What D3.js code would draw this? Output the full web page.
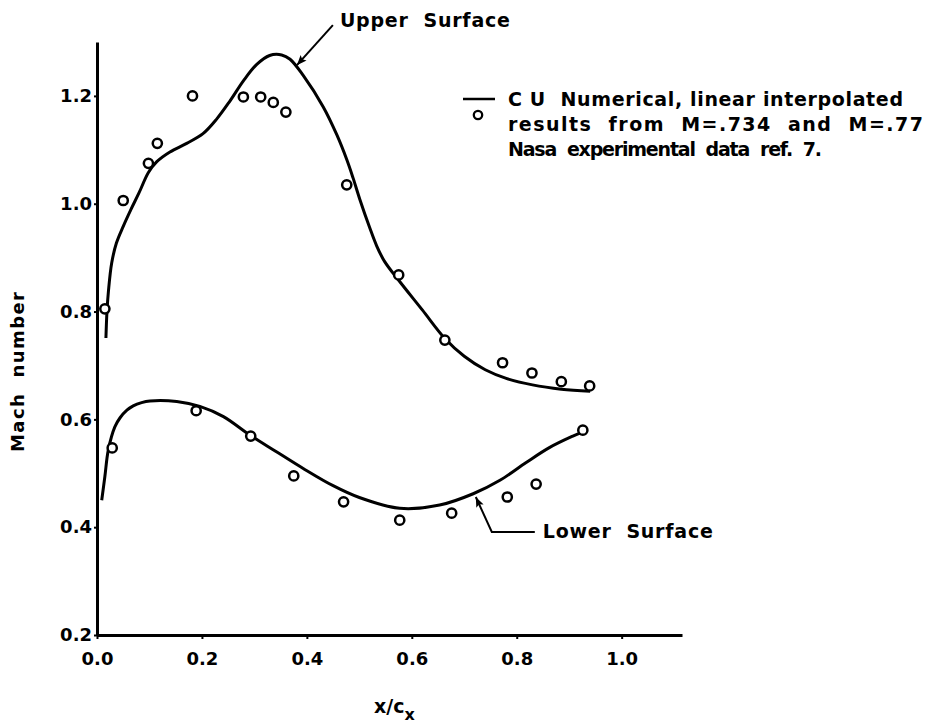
<!DOCTYPE html>
<html>
<head>
<meta charset="utf-8">
<script src="https://cdn.jsdelivr.net/npm/d3@7"></script>
<style>
    body { margin: 0; background: #fff; }
    svg text { font-family: "DejaVu Sans", sans-serif; font-weight: bold; fill: #000; }
</style>
</head>
<body>
<svg id="chart" width="938" height="724"></svg>
<script>
// ticks
const xTicks = [0, 0.2, 0.4, 0.6, 0.8, 1.0];
const xTickLabels = ["0.0", "0.2", "0.4", "0.6", "0.8", "1.0"];
const yTicks = [0.2, 0.4, 0.6, 0.8, 1.0, 1.2];
const yTickLabels = ["0.2", "0.4", "0.6", "0.8", "1.0", "1.2"];

// CU numerical, upper surface (x/c, Mach)
const upperCurveX = [0.017, 0.019, 0.022, 0.028, 0.037, 0.050, 0.065, 0.080, 0.098, 0.114, 0.139, 0.171, 0.202, 0.228, 0.253, 0.279, 0.304, 0.329, 0.352, 0.368, 0.393, 0.431, 0.457, 0.476, 0.488, 0.501, 0.520, 0.533, 0.548, 0.575, 0.620, 0.663, 0.700, 0.740, 0.780, 0.830, 0.885, 0.940];
const upperCurveM = [0.751, 0.800, 0.840, 0.890, 0.927, 0.958, 0.990, 1.020, 1.058, 1.078, 1.096, 1.112, 1.130, 1.157, 1.190, 1.228, 1.258, 1.275, 1.276, 1.268, 1.238, 1.180, 1.128, 1.082, 1.048, 1.008, 0.955, 0.922, 0.893, 0.858, 0.803, 0.750, 0.717, 0.692, 0.676, 0.664, 0.656, 0.652];

// CU numerical, lower surface
const lowerCurveX = [0.009, 0.015, 0.0215, 0.034, 0.044, 0.057, 0.069, 0.085, 0.101, 0.152, 0.196, 0.241, 0.291, 0.342, 0.393, 0.450, 0.500, 0.577, 0.653, 0.717, 0.768, 0.818, 0.863, 0.907, 0.926];
const lowerCurveM = [0.450, 0.494, 0.543, 0.586, 0.603, 0.617, 0.625, 0.631, 0.634, 0.633, 0.624, 0.605, 0.571, 0.540, 0.509, 0.477, 0.455, 0.435, 0.441, 0.462, 0.487, 0.520, 0.548, 0.569, 0.577];

// Nasa experimental data
const upperExpX = [0.015, 0.050, 0.098, 0.115, 0.182, 0.279, 0.312, 0.336, 0.360, 0.476, 0.575, 0.663, 0.773, 0.829, 0.885, 0.939];
const upperExpM = [0.805, 1.006, 1.075, 1.112, 1.200, 1.198, 1.198, 1.188, 1.170, 1.035, 0.868, 0.747, 0.705, 0.686, 0.670, 0.662];
const lowerExpX = [0.029, 0.189, 0.293, 0.375, 0.470, 0.577, 0.676, 0.782, 0.837, 0.926];
const lowerExpM = [0.547, 0.616, 0.569, 0.495, 0.447, 0.413, 0.426, 0.456, 0.480, 0.580];

const legendLines = [
    "C U  Numerical, linear interpolated",
    "results  from  M=.734  and  M=.77",
    "Nasa  experimental  data  ref.  7."
];
const legendWidths = [395, 415, 314];

const svg = d3.select("#chart");

const x = d3.scaleLinear().domain([0, 1.115]).range([97, 682]);
const y = d3.scaleLinear().domain([0.2, 1.3]).range([635, 42]);

// axes
let xAxis = d3.axisBottom(x)
    .tickValues(xTicks)
    .tickSize(4)
    .tickSizeOuter(0)
    .tickPadding(13)
    .tickFormat((d, i) => xTickLabels[i]);

let yAxis = d3.axisLeft(y)
    .tickValues(yTicks)
    .tickSize(3)
    .tickSizeOuter(0)
    .tickPadding(2)
    .tickFormat((d, i) => yTickLabels[i]);

let gx = svg.append("g")
    .attr("transform", "translate(0,635)")
    .call(xAxis);
let gy = svg.append("g")
    .attr("transform", "translate(97,0)")
    .call(yAxis);

[gx, gy].forEach(g => {
    g.select(".domain").attr("stroke", "#000").attr("stroke-width", 3);
    g.selectAll(".tick line").attr("stroke", "#000").attr("stroke-width", 2);
    g.selectAll(".tick text")
        .attr("font-size", 18)
        .style("font-family", '"DejaVu Sans", sans-serif')
        .style("font-weight", "bold");
});

// axis titles
svg.append("text")
    .attr("transform", "translate(24,372) rotate(-90)")
    .attr("text-anchor", "middle")
    .attr("font-size", 18)
    .attr("textLength", 160)
    .attr("lengthAdjust", "spacing")
    .style("white-space", "pre")
    .text("Mach  number");

let xt = svg.append("text")
    .attr("x", 374)
    .attr("y", 713)
    .attr("font-size", 19);
xt.append("tspan").text("x/c");
xt.append("tspan").attr("dy", 7).attr("font-size", 16).text("x");

// curves
const line = d3.line()
    .x(d => x(d[0]))
    .y(d => y(d[1]))
    .curve(d3.curveCatmullRom.alpha(0.5));

svg.append("path")
    .datum(d3.zip(upperCurveX, upperCurveM))
    .attr("d", line)
    .attr("fill", "none")
    .attr("stroke", "#000")
    .attr("stroke-width", 3);

svg.append("path")
    .datum(d3.zip(lowerCurveX, lowerCurveM))
    .attr("d", line)
    .attr("fill", "none")
    .attr("stroke", "#000")
    .attr("stroke-width", 3);

// experimental points
const expData = d3.zip(upperExpX, upperExpM).concat(d3.zip(lowerExpX, lowerExpM));
svg.append("g")
    .selectAll("circle")
    .data(expData)
    .enter()
    .append("circle")
    .attr("cx", d => x(d[0]))
    .attr("cy", d => y(d[1]))
    .attr("r", 4.6)
    .attr("fill", "#fff")
    .attr("stroke", "#000")
    .attr("stroke-width", 2.5);

// arrow marker
svg.append("defs")
    .append("marker")
    .attr("id", "arrow")
    .attr("viewBox", "0 0 10 10")
    .attr("refX", 10)
    .attr("refY", 5)
    .attr("markerUnits", "userSpaceOnUse")
    .attr("markerWidth", 13)
    .attr("markerHeight", 10)
    .attr("orient", "auto")
    .append("path")
    .attr("d", "M0,1L10,5L0,9L2,5z")
    .attr("fill", "#000");

// Upper Surface annotation
let upTip = [x(0.381), y(1.257)];
svg.append("path")
    .attr("d", `M${upTip[0] + 36},${upTip[1] - 40}L${upTip[0]},${upTip[1]}`)
    .attr("stroke", "#000")
    .attr("stroke-width", 2)
    .attr("fill", "none")
    .attr("marker-end", "url(#arrow)");
svg.append("text")
    .attr("x", upTip[0] + 43)
    .attr("y", upTip[1] - 38)
    .attr("font-size", 19)
    .attr("textLength", 170)
    .attr("lengthAdjust", "spacing")
    .style("white-space", "pre")
    .text("Upper  Surface");

// Lower Surface annotation
let loTip = [x(0.722), y(0.456)];
svg.append("path")
    .attr("d", `M${loTip[0] + 59},${loTip[1] + 35}L${loTip[0] + 16},${loTip[1] + 35}L${loTip[0]},${loTip[1]}`)
    .attr("stroke", "#000")
    .attr("stroke-width", 2)
    .attr("fill", "none")
    .attr("marker-end", "url(#arrow)");
svg.append("text")
    .attr("x", loTip[0] + 67)
    .attr("y", loTip[1] + 41)
    .attr("font-size", 19)
    .attr("textLength", 170)
    .attr("lengthAdjust", "spacing")
    .style("white-space", "pre")
    .text("Lower  Surface");

// legend
let legend = svg.append("g").attr("transform", "translate(463,99)");
legend.append("line")
    .attr("x1", 0).attr("x2", 32)
    .attr("y1", 0).attr("y2", 0)
    .attr("stroke", "#000")
    .attr("stroke-width", 2.5);
legend.append("circle")
    .attr("cx", 15).attr("cy", 16)
    .attr("r", 4.2)
    .attr("fill", "#fff")
    .attr("stroke", "#000")
    .attr("stroke-width", 2.3);

legend.selectAll("text.leg")
    .data(legendLines)
    .enter()
    .append("text")
    .attr("class", "leg")
    .attr("x", 45)
    .attr("y", (d, i) => 7 + i * 25)
    .attr("font-size", 19)
    .attr("textLength", (d, i) => legendWidths[i])
    .attr("lengthAdjust", "spacing")
    .style("white-space", "pre")
    .text(d => d);
</script>
</body>
</html>
